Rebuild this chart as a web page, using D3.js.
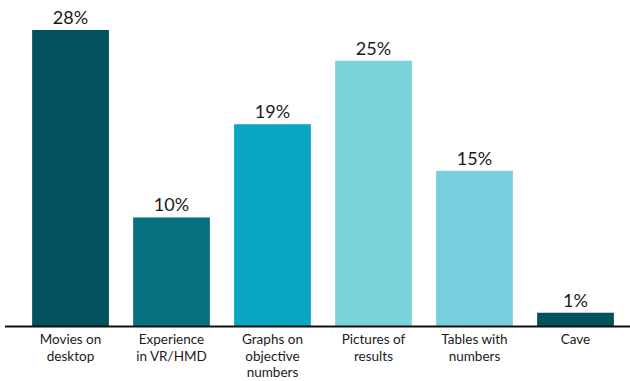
<!DOCTYPE html>
<html><head><meta charset="utf-8">
<script src="https://cdn.jsdelivr.net/npm/d3@7"></script>
<style>body{margin:0;background:#fff}svg{display:block}</style>
</head><body>
<script>
const categories = [["Movies on","desktop"],["Experience","in VR/HMD"],["Graphs on","objective","numbers"],["Pictures of","results"],["Tables with","numbers"],["Cave"]];
const values = [28, 10.3, 19.1, 25.1, 14.7, 1.3];
const valueLabels = ["28%","10%","19%","25%","15%","1%"];
const colors = ["#02515f","#08717f","#09a5c1","#7bd3dc","#79cfde","#02515f"];

const W = 630, H = 381, base = 326.5;
const svg = d3.select("body").append("svg").attr("width", W).attr("height", H);
const x = d3.scaleBand().domain(d3.range(values.length)).range([20, 626]).paddingInner(0.24).paddingOuter(0.12);
const y = d3.scaleLinear().domain([0, 28]).range([base, 30]);

svg.selectAll("rect.bar").data(values).join("rect")
  .attr("x", (d,i) => x(i)).attr("width", x.bandwidth())
  .attr("y", d => y(d)).attr("height", d => base - y(d))
  .attr("fill", (d,i) => colors[i]);

svg.selectAll("text.val").data(values).join("text")
  .attr("x", (d,i) => x(i) + x.bandwidth()/2).attr("y", d => y(d) - 6)
  .attr("text-anchor","middle").attr("font-family","Lato, sans-serif").attr("font-size", 18)
  .attr("fill","#1a1a1a").text((d,i) => valueLabels[i]);

svg.append("line").attr("x1", 5).attr("x2", 630).attr("y1", base).attr("y2", base)
  .attr("stroke","#111").attr("stroke-width", 2);

const cat = svg.selectAll("text.cat").data(categories).join("text")
  .attr("text-anchor","middle").attr("font-family","Lato, sans-serif").attr("font-size", 13.5).attr("fill","#1a1a1a");
cat.each(function(lines, i){
  d3.select(this).selectAll("tspan").data(lines).join("tspan")
    .attr("x", x(i) + x.bandwidth()/2).attr("y", (l, j) => 344 + j*16.5).text(l => l);
});
</script>
</body></html>
